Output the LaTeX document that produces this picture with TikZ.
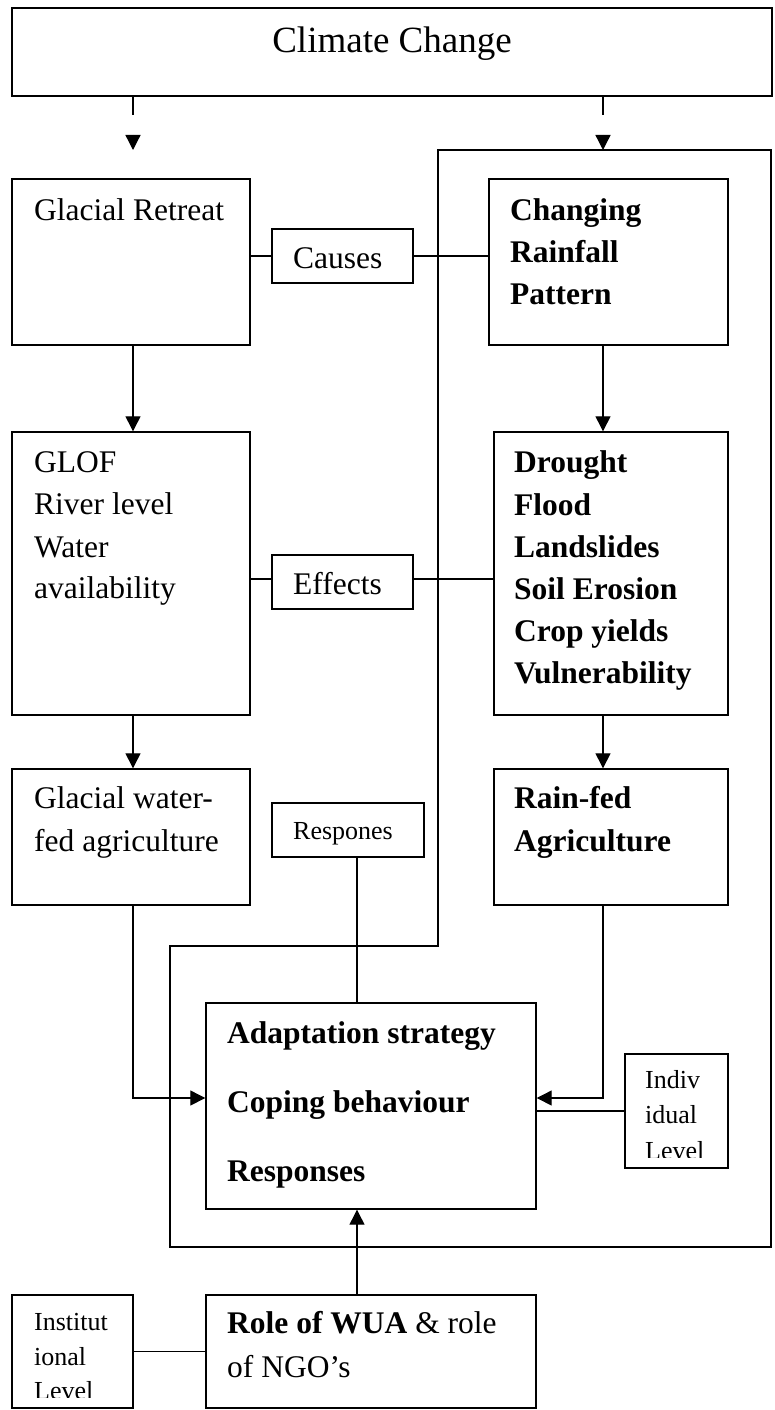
\documentclass[tikz,border=0pt]{standalone}
\usepackage{fontspec}
\setmainfont{Liberation Serif}
\usetikzlibrary{arrows.meta}

% rectangle from its corners (x1,y1)-(x2,y2)
\newcommand\frameb[5]{%
  \node[rectbox, minimum width={(#4-#2)*1pt}, minimum height={(#5-#3)*1pt}]
    (#1) at ({(#2+#4)/2},{(#3+#5)/2}) {};}
% one line of text, placed by its baseline start
\newcommand\tline[5][body]{%
  \node[#1, anchor=base west, inner sep=0pt] (#2) at (#3,#4) {#5};}

\begin{document}
\begin{tikzpicture}[x=1pt, y=-1pt,
  rectbox/.style={draw, line width=1.4pt, inner sep=0pt},
  body/.style={font=\fontsize{31.5}{38}\selectfont},
  bbody/.style={font=\fontsize{31.5}{38}\selectfont\bfseries},
  small/.style={font=\fontsize{26}{32}\selectfont},
  conn/.style={line width=1.3pt},
  arr/.style={conn, -{Triangle[length=15pt, width=15pt]}}]

\useasboundingbox (0,0) rectangle (774,1410);

% ---------- boxes ----------
\frameb{cc}{12}{8}{772}{96}
\frameb{gr}{12}{179}{250}{345}
\frameb{causes}{272}{229}{413}{283}
\frameb{crp}{489}{179}{728}{345}
\frameb{glof}{12}{432}{250}{715}
\frameb{effects}{272}{555}{413}{609}
\frameb{dr}{494}{432}{728}{715}
\frameb{gw}{12}{769}{250}{905}
\frameb{resp}{272}{803}{424}{857}
\frameb{rf}{494}{769}{728}{905}
\frameb{ad}{206}{1003}{536}{1209}
\frameb{ind}{625}{1054}{728}{1168}
\frameb{role}{206}{1295}{536}{1408}
\frameb{inst}{12}{1295}{133}{1408}

% ---------- feedback loop ----------
\draw[conn] (438,946) -- (438,150) -- (771,150) -- (771,1247)
  -- (170,1247) -- (170,946) -- cycle;

% ---------- texts ----------
\node[font=\fontsize{37}{42}\selectfont, anchor=base, inner sep=0pt] (cct) at (392,53) {Climate Change};

\tline{grt}{34}{220}{Glacial Retreat}
\tline{causest}{293}{268}{Causes}
\tline[bbody]{crp1}{510}{220}{Changing}
\tline[bbody]{crp2}{510}{262}{Rainfall}
\tline[bbody]{crp3}{510}{304}{Pattern}

\tline{g1}{34}{472}{GLOF}
\tline{g2}{34}{514}{River level}
\tline{g3}{34}{557}{Water}
\tline{g4}{34}{598}{availability}
\tline{effectst}{293}{594}{Effects}
\tline[bbody]{d1}{514}{472}{Drought}
\tline[bbody]{d2}{514}{515}{Flood}
\tline[bbody]{d3}{514}{557}{Landslides}
\tline[bbody]{d4}{514}{599}{Soil Erosion}
\tline[bbody]{d5}{514}{641}{Crop yields}
\tline[bbody]{d6}{514}{683}{Vulnerability}

\tline{gw1}{34}{808}{Glacial water-}
\tline{gw2}{34}{851}{fed agriculture}
\tline[small]{respt}{293}{839}{Respones}
\tline[bbody]{rf1}{514}{808}{Rain-fed}
\tline[bbody]{rf2}{514}{851}{Agriculture}

\tline[bbody]{ad1}{227}{1043}{Adaptation strategy}
\tline[bbody]{ad2}{227}{1112}{Coping behaviour}
\tline[bbody]{ad3}{227}{1181}{Responses}

\begin{scope}
  \clip (625,1054) rectangle (728,1157);
  \tline[small]{ind1}{645}{1088}{Indiv}
  \tline[small]{ind2}{645}{1123}{idual}
  \tline[small]{ind3}{645}{1159}{Level}
\end{scope}

\node[body, anchor=base west, inner sep=0pt] (role1) at (227,1333) {\textbf{Role of WUA} \& role};
\tline{role2}{227}{1377}{of NGO’s}

\begin{scope}
  \clip (12,1295) rectangle (133,1397);
  \tline[small]{inst1}{34}{1330}{Institut}
  \tline[small]{inst2}{34}{1365}{ional}
  \tline[small]{inst3}{34}{1399}{Level}
\end{scope}

% ---------- connectors ----------
\coordinate (la1) at (133,115);
\coordinate (la2) at (133,135);
\coordinate (la3) at (133,150);
\coordinate (ra1) at (603,115);
\coordinate (ra2) at (603,135);
\coordinate (ra3) at (603,150);
\draw[conn] (cc.south -| la1) -- (la1);
\draw[arr] (la2) -- (la3);
\draw[conn] (cc.south -| ra1) -- (ra1);
\draw[arr] (ra2) -- (ra3);

\draw[arr] (gr.south -| la1) -- (glof.north -| la1);
\draw[arr] (glof.south -| la1) -- (gw.north -| la1);
\draw[arr] (crp.south -| ra1) -- (dr.north -| ra1);
\draw[arr] (dr.south -| ra1) -- (rf.north -| ra1);

\draw[conn] (gr.east |- causes.west) -- (causes.west);
\draw[conn] (causes.east) -- (causes.east -| crp.west);
\coordinate (ey) at (0,579);
\draw[conn] (glof.east |- ey) -- (effects.west |- ey);
\draw[conn] (effects.east |- ey) -- (dr.west |- ey);

\coordinate (hy) at (0,1098);
\draw[arr] (gw.south -| la1) |- (ad.west |- hy);
\draw[arr] (rf.south -| ra1) |- (ad.east |- hy);
\draw[conn] (ind.west) -- (ind.west -| ad.east);

\coordinate (mx) at (357,0);
\draw[conn] (resp.south -| mx) -- (ad.north -| mx);
\draw[arr] (role.north -| mx) -- (ad.south -| mx);
\draw[conn] (inst.east) -- (inst.east -| role.west);

\end{tikzpicture}
\end{document}
